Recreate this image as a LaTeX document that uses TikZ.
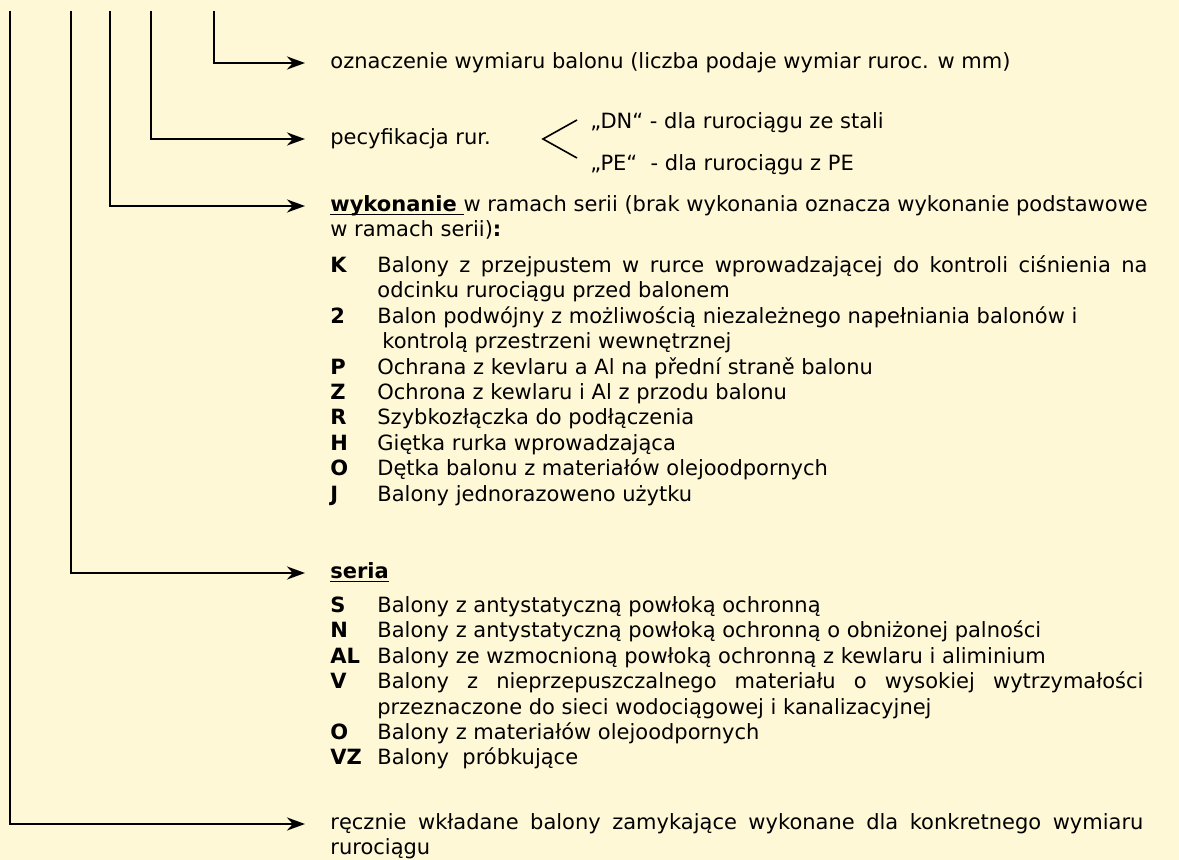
\documentclass[tikz,border=0pt]{standalone}
\usepackage{fontspec}
\setmainfont{DejaVu Sans}
\usetikzlibrary{arrows.meta}

\definecolor{paper}{HTML}{FFF8D7}

% letter column of the lists
\newcommand{\lit}[1]{\makebox[23.5pt][l]{\textbf{#1}}}
% bold heading with a thick underline
\newcommand{\ulhead}[1]{\setbox0\hbox{#1}\rlap{\rule[-1.9pt]{\wd0}{0.9pt}}\box0}

\begin{document}
\begin{tikzpicture}[x=0.5pt,y=-0.5pt,
  conn/.style={line width=1.4pt,-{Stealth[length=9pt,width=6.5pt]}},
  txt/.style={anchor=base west,inner sep=0pt,align=left,
    font=\fontsize{10.5}{12.7}\selectfont}]

  % Define the page
  \fill[paper] (0,0) rectangle (1179,860);
  \useasboundingbox (0,0) rectangle (1179,860);

  % Draw the leader lines
  \foreach \x/\y [count=\i] in {214/63,151/139,110/206,71/573,10/824} {
    \coordinate (t\i) at (\x,11);
    \coordinate (e\i) at (305,\y);
    \draw[conn] (t\i) |- (e\i);
  }

  % Size of the balloon
  \node[txt] (dim) at (330,68.6)
    {oznaczenie wymiaru balonu (liczba podaje wymiar ruroc. w mm)};

  % Pipe specification
  \node[txt] (spec) at (330,144.6) {pecyfikacja rur.};
  \draw[line width=0.8pt] (577,120) -- (543,139) -- (577,158);
  \node[txt] (dn) at (590,128.6) {„DN“ - dla rurociągu ze stali};
  \node[txt] (pe) at (590,170.6) {„PE“\ \ - dla rurociągu z PE};

  % Version (multi-line nodes sit on their last line)
  \node[txt] (ver) at (330,237)
    {\ulhead{\textbf{wykonanie}\ } w ramach serii (brak wykonania oznacza wykonanie podstawowe\\
     w ramach serii)\textbf{:}};
  \node[txt] (verlist) at (330,501.2)
    {\lit{K}\makebox[385pt][s]{Balony z przejpustem w rurce wprowadzającej do kontroli ciśnienia na}\\
     \lit{}odcinku rurociągu przed balonem\\
     \lit{2}Balon podwójny z możliwością niezależnego napełniania balonów i\\
     \lit{}\hspace{2.5pt}kontrolą przestrzeni wewnętrznej\\
     \lit{P}Ochrana z kevlaru a Al na přední straně balonu\\
     \lit{Z}Ochrona z kewlaru i Al z przodu balonu\\
     \lit{R}Szybkozłączka do podłączenia\\
     \lit{H}Giętka rurka wprowadzająca\\
     \lit{O}Dętka balonu z materiałów olejoodpornych\\
     \lit{J}Balony jednorazoweno użytku};

  % Series
  \node[txt] (ser) at (330,578.6) {\ulhead{\textbf{seria}}};
  \node[txt] (serlist) at (330,765)
    {\lit{S}Balony z antystatyczną powłoką ochronną\\
     \lit{N}Balony z antystatyczną powłoką ochronną o obniżonej palności\\
     \lit{AL}Balony ze wzmocnioną powłoką ochronną z kewlaru i aliminium\\
     \lit{V}\makebox[383pt][s]{Balony z nieprzepuszczalnego materiału o wysokiej wytrzymałości}\\
     \lit{}przeznaczone do sieci wodociągowej i kanalizacyjnej\\
     \lit{O}Balony z materiałów olejoodpornych\\
     \lit{VZ}Balony\ \ próbkujące};

  % Type
  \node[txt] (type) at (330,855)
    {\makebox[406.5pt][s]{ręcznie wkładane balony zamykające wykonane dla konkretnego wymiaru}\\
     rurociągu};

\end{tikzpicture}
\end{document}
